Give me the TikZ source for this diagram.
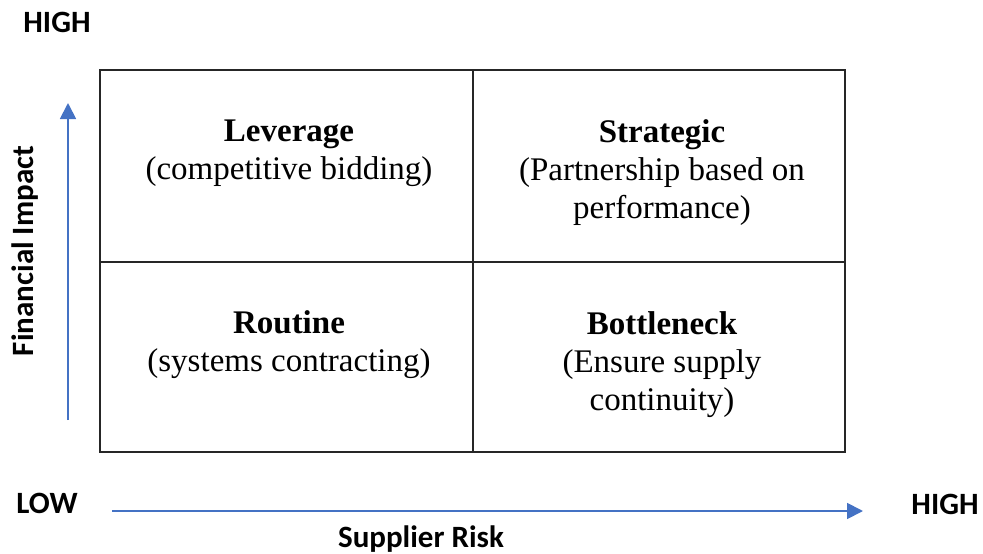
\documentclass[tikz,border=0pt]{standalone}
\usepackage{fontspec}
\setmainfont{Liberation Serif}
\setsansfont{Carlito}
\usepackage{xcolor}
\usetikzlibrary{arrows.meta}
\definecolor{axisblue}{HTML}{4472C4}

\begin{document}
\begin{tikzpicture}[x=1pt,y=-1pt,
    cell/.style={align=center,font=\fontsize{33}{38}\selectfont,inner sep=0pt,anchor=base},
    lbl/.style={font=\sffamily\bfseries\fontsize{31}{36}\selectfont,inner sep=0pt,anchor=base},
    axis/.style={axisblue,line width=1.8pt,-{Triangle[length=16pt,width=16pt]}}]
    \useasboundingbox (0,0) rectangle (983,554);

    \draw[line width=1.8pt,black!85] (100,70) rectangle (845,452);
    \draw[line width=1.8pt,black!85] (473,70) -- (473,452);
    \draw[line width=1.8pt,black!85] (100,262) -- (845,262);

    % base of a multi-line node is the last line
    \node[cell] (lev)   at (289,179) {\textbf{Leverage}\\(competitive bidding)};
    \node[cell] (strat) at (662,218) {\textbf{Strategic}\\(Partnership based on\\performance)};
    \node[cell] (rout)  at (289,371) {\textbf{Routine}\\(systems contracting)};
    \node[cell] (bott)  at (662,410) {\textbf{Bottleneck}\\(Ensure supply\\continuity)};

    \coordinate (v0) at (68,420);
    \coordinate (v1) at (68,103);
    \draw[axis] (v0) -- (v1);
    \coordinate (h0) at (112,511);
    \coordinate (h1) at (863,511);
    \draw[axis] (h0) -- (h1);

    \node[lbl] (yhigh) at (57,32) {HIGH};
    \node[lbl] (xlow)  at (47,513) {LOW};
    \node[lbl] (xhigh) at (945,514) {HIGH};
    \node[lbl] (xname) at (421,547) {Supplier Risk};
    \node[lbl,rotate=90] (yname) at (33,251) {Financial Impact};
\end{tikzpicture}
\end{document}
